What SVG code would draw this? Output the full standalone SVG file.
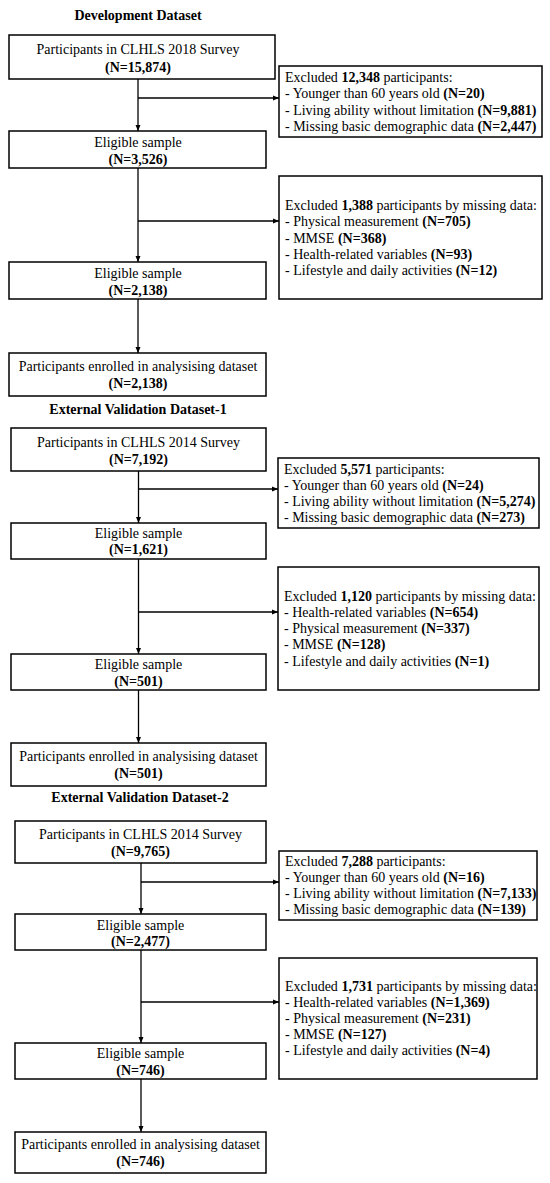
<svg xmlns="http://www.w3.org/2000/svg" width="550" height="1183" viewBox="0 0 550 1183">
<style>
text{font-family:"Liberation Serif","Times New Roman",serif;font-size:14px;fill:#000}
.t{font-weight:bold;text-anchor:middle}
.c{text-anchor:middle}
.b{font-weight:bold}
rect{fill:#fff;stroke:#000;stroke-width:1.5}
.ln{stroke:#000;stroke-width:1.3;fill:none}
</style>
<defs>
<marker id="ah" viewBox="0 0 6 6" refX="6" refY="3" markerWidth="6" markerHeight="6" markerUnits="userSpaceOnUse" orient="auto">
<path d="M0,0.5 L6,3 L0,5.5 Z" fill="#000"/>
</marker>
</defs>
<text class="t" x="138" y="20">Development Dataset</text>
<text class="t" x="138" y="414">External Validation Dataset-1</text>
<text class="t" x="140" y="802">External Validation Dataset-2</text>
<g id="connectors">
<line class="ln" x1="138" y1="79" x2="138" y2="131" marker-end="url(#ah)"/>
<line class="ln" x1="138" y1="98" x2="279" y2="98" marker-end="url(#ah)"/>
<line class="ln" x1="138" y1="168" x2="138" y2="262" marker-end="url(#ah)"/>
<line class="ln" x1="138" y1="221" x2="279" y2="221" marker-end="url(#ah)"/>
<line class="ln" x1="138" y1="299" x2="138" y2="353" marker-end="url(#ah)"/>
<line class="ln" x1="138.5" y1="471" x2="138.5" y2="523" marker-end="url(#ah)"/>
<line class="ln" x1="138.5" y1="489" x2="278" y2="489" marker-end="url(#ah)"/>
<line class="ln" x1="138.5" y1="559" x2="138.5" y2="654" marker-end="url(#ah)"/>
<line class="ln" x1="138.5" y1="612" x2="278" y2="612" marker-end="url(#ah)"/>
<line class="ln" x1="138.5" y1="690" x2="138.5" y2="743" marker-end="url(#ah)"/>
<line class="ln" x1="141" y1="863" x2="141" y2="914" marker-end="url(#ah)"/>
<line class="ln" x1="141" y1="882" x2="279" y2="882" marker-end="url(#ah)"/>
<line class="ln" x1="141" y1="950" x2="141" y2="1043" marker-end="url(#ah)"/>
<line class="ln" x1="141" y1="1002" x2="279" y2="1002" marker-end="url(#ah)"/>
<line class="ln" x1="141" y1="1079" x2="141" y2="1132" marker-end="url(#ah)"/>
</g>
<g id="d1-survey"><rect x="9" y="35" width="266" height="44"/>
<text class="c" x="138" y="54">Participants in CLHLS 2018 Survey</text>
<text class="t" x="138" y="72">(N=15,874)</text></g>
<g id="d1-excl1"><rect x="279" y="66" width="263" height="71"/>
<text x="285" y="82">Excluded <tspan class="b">12,348</tspan> participants:</text>
<text x="285" y="98">- Younger than 60 years old <tspan class="b">(N=20)</tspan></text>
<text x="285" y="115">- Living ability without limitation <tspan class="b">(N=9,881)</tspan></text>
<text x="285" y="131">- Missing basic demographic data <tspan class="b">(N=2,447)</tspan></text></g>
<g id="d1-elig1"><rect x="9" y="131" width="257" height="37"/>
<text class="c" x="138" y="147">Eligible sample</text>
<text class="t" x="138" y="164">(N=3,526)</text></g>
<g id="d1-excl2"><rect x="279" y="176" width="263" height="123"/>
<text x="285" y="210">Excluded <tspan class="b">1,388</tspan> participants by missing data:</text>
<text x="285" y="226">- Physical measurement <tspan class="b">(N=705)</tspan></text>
<text x="285" y="243">- MMSE <tspan class="b">(N=368)</tspan></text>
<text x="285" y="259">- Health-related variables <tspan class="b">(N=93)</tspan></text>
<text x="285" y="275">- Lifestyle and daily activities <tspan class="b">(N=12)</tspan></text></g>
<g id="d1-elig2"><rect x="9" y="262" width="257" height="37"/>
<text class="c" x="138" y="278">Eligible sample</text>
<text class="t" x="138" y="295">(N=2,138)</text></g>
<g id="d1-final"><rect x="9" y="353" width="257" height="43"/>
<text class="c" x="138" y="371">Participants enrolled in analysising dataset</text>
<text class="t" x="138" y="388">(N=2,138)</text></g>

<g id="d2-survey"><rect x="11" y="428" width="255" height="43"/>
<text class="c" x="138.5" y="447">Participants in CLHLS 2014 Survey</text>
<text class="t" x="138.5" y="464">(N=7,192)</text></g>
<g id="d2-excl1"><rect x="278" y="458" width="261" height="70"/>
<text x="284" y="474">Excluded <tspan class="b">5,571</tspan> participants:</text>
<text x="284" y="490">- Younger than 60 years old <tspan class="b">(N=24)</tspan></text>
<text x="284" y="506">- Living ability without limitation <tspan class="b">(N=5,274)</tspan></text>
<text x="284" y="522">- Missing basic demographic data <tspan class="b">(N=273)</tspan></text></g>
<g id="d2-elig1"><rect x="11" y="523" width="255" height="36"/>
<text class="c" x="138.5" y="538">Eligible sample</text>
<text class="t" x="138.5" y="554">(N=1,621)</text></g>
<g id="d2-excl2"><rect x="278" y="567" width="261" height="123"/>
<text x="284" y="601">Excluded <tspan class="b">1,120</tspan> participants by missing data:</text>
<text x="284" y="617">- Health-related variables <tspan class="b">(N=654)</tspan></text>
<text x="284" y="633">- Physical measurement <tspan class="b">(N=337)</tspan></text>
<text x="284" y="649">- MMSE <tspan class="b">(N=128)</tspan></text>
<text x="284" y="666">- Lifestyle and daily activities <tspan class="b">(N=1)</tspan></text></g>
<g id="d2-elig2"><rect x="11" y="654" width="255" height="36"/>
<text class="c" x="138.5" y="669">Eligible sample</text>
<text class="t" x="138.5" y="686">(N=501)</text></g>
<g id="d2-final"><rect x="11" y="743" width="255" height="43"/>
<text class="c" x="138.5" y="761">Participants enrolled in analysising dataset</text>
<text class="t" x="138.5" y="778">(N=501)</text></g>

<g id="d3-survey"><rect x="15" y="821" width="251" height="42"/>
<text class="c" x="140.5" y="839">Participants in CLHLS 2014 Survey</text>
<text class="t" x="140.5" y="856">(N=9,765)</text></g>
<g id="d3-excl1"><rect x="279" y="851" width="258" height="69"/>
<text x="285" y="866">Excluded <tspan class="b">7,288</tspan> participants:</text>
<text x="285" y="882">- Younger than 60 years old <tspan class="b">(N=16)</tspan></text>
<text x="285" y="898">- Living ability without limitation <tspan class="b">(N=7,133)</tspan></text>
<text x="285" y="914">- Missing basic demographic data <tspan class="b">(N=139)</tspan></text></g>
<g id="d3-elig1"><rect x="15" y="914" width="251" height="36"/>
<text class="c" x="140.5" y="930">Eligible sample</text>
<text class="t" x="140.5" y="946">(N=2,477)</text></g>
<g id="d3-excl2"><rect x="279" y="958" width="258" height="121"/>
<text x="285" y="991">Excluded <tspan class="b">1,731</tspan> participants by missing data:</text>
<text x="285" y="1007">- Health-related variables <tspan class="b">(N=1,369)</tspan></text>
<text x="285" y="1023">- Physical measurement <tspan class="b">(N=231)</tspan></text>
<text x="285" y="1039">- MMSE <tspan class="b">(N=127)</tspan></text>
<text x="285" y="1055">- Lifestyle and daily activities <tspan class="b">(N=4)</tspan></text></g>
<g id="d3-elig2"><rect x="15" y="1043" width="251" height="36"/>
<text class="c" x="140.5" y="1058">Eligible sample</text>
<text class="t" x="140.5" y="1075">(N=746)</text></g>
<g id="d3-final"><rect x="15" y="1132" width="251" height="41"/>
<text class="c" x="140.5" y="1149">Participants enrolled in analysising dataset</text>
<text class="t" x="140.5" y="1166">(N=746)</text></g>
</svg>
